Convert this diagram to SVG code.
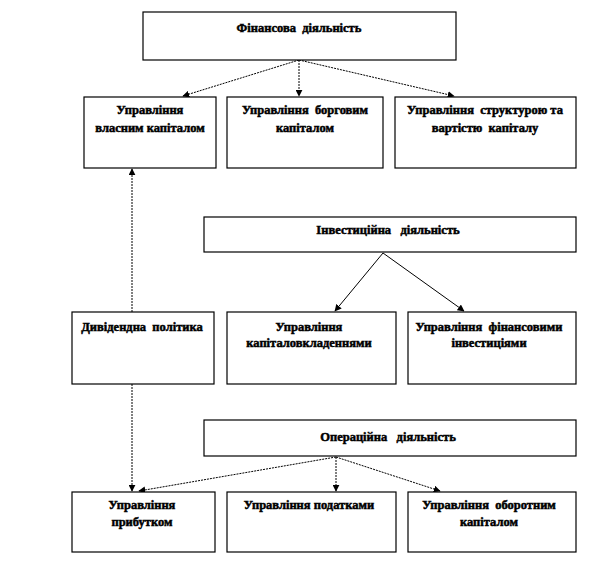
<svg xmlns="http://www.w3.org/2000/svg" width="612" height="564" viewBox="0 0 612 564" xml:space="preserve">
<style>
.box{fill:#fff;stroke:#000;stroke-width:1.2}
.t{font-family:"Liberation Serif","DejaVu Serif",serif;font-weight:bold;font-size:12.5px;fill:#000;stroke:#000;stroke-width:0.5;text-anchor:middle;white-space:pre}
.c{fill:none;stroke:#000;stroke-width:1;stroke-dasharray:2,1}
.s{fill:none;stroke:#000;stroke-width:1}
</style>
<defs>
<marker id="ah" viewBox="0 0 10 10" refX="9" refY="5" markerWidth="7" markerHeight="7" markerUnits="userSpaceOnUse" orient="auto">
<path d="M0,0 L10,5 L0,10 z" fill="#000"/>
</marker>
</defs>
<rect width="612" height="564" fill="#fff"/>
<g id="connectors">
<line class="c" x1="299" y1="60" x2="183" y2="96" marker-end="url(#ah)"/>
<line class="c" x1="299" y1="60" x2="299" y2="96" marker-end="url(#ah)"/>
<line class="c" x1="299" y1="60" x2="454" y2="96" marker-end="url(#ah)"/>
<line class="s" x1="383" y1="253" x2="335" y2="311" marker-end="url(#ah)"/>
<line class="s" x1="383" y1="253" x2="464" y2="311" marker-end="url(#ah)"/>
<line class="c" x1="132" y1="312" x2="132" y2="169" marker-end="url(#ah)"/>
<line class="c" x1="132" y1="384" x2="132" y2="491" marker-end="url(#ah)"/>
<line class="c" x1="336" y1="457" x2="139" y2="491" marker-end="url(#ah)"/>
<line class="c" x1="336" y1="457" x2="336" y2="491" marker-end="url(#ah)"/>
<line class="c" x1="336" y1="457" x2="440" y2="491" marker-end="url(#ah)"/>
</g>
<g id="fin">
<rect class="box" x="143" y="12" width="313" height="48"/>
<text class="t" x="299" y="32">Фінансова  діяльність</text>
</g>
<g id="own">
<rect class="box" x="84" y="97" width="132" height="71"/>
<text class="t" x="150" y="114">Управління</text>
<text class="t" x="150" y="132">власним капіталом</text>
</g>
<g id="debt">
<rect class="box" x="227" y="97" width="156" height="71"/>
<text class="t" x="305" y="114">Управління  борговим</text>
<text class="t" x="305" y="132">капіталом</text>
</g>
<g id="struct">
<rect class="box" x="395" y="97" width="181" height="71"/>
<text class="t" x="485" y="114">Управління  структурою та</text>
<text class="t" x="485" y="132">вартістю  капіталу</text>
</g>
<g id="invest">
<rect class="box" x="204" y="217" width="372" height="35"/>
<text class="t" x="388" y="234">Інвестиційна   діяльність</text>
</g>
<g id="div">
<rect class="box" x="72" y="312" width="142" height="72"/>
<text class="t" x="142" y="331">Дивідендна  політика</text>
</g>
<g id="capex">
<rect class="box" x="227" y="312" width="169" height="72"/>
<text class="t" x="309" y="331">Управління</text>
<text class="t" x="309" y="347">капіталовкладеннями</text>
</g>
<g id="fininv">
<rect class="box" x="408" y="312" width="168" height="72"/>
<text class="t" x="489" y="331">Управління  фінансовими</text>
<text class="t" x="489" y="347">інвестиціями</text>
</g>
<g id="oper">
<rect class="box" x="204" y="420" width="372" height="36"/>
<text class="t" x="388" y="441">Операційна   діяльність</text>
</g>
<g id="profit">
<rect class="box" x="72" y="492" width="143" height="60"/>
<text class="t" x="142" y="509">Управління</text>
<text class="t" x="142" y="526">прибутком</text>
</g>
<g id="tax">
<rect class="box" x="227" y="492" width="169" height="60"/>
<text class="t" x="309" y="509">Управління податками</text>
</g>
<g id="working">
<rect class="box" x="408" y="492" width="168" height="60"/>
<text class="t" x="489" y="509">Управління  оборотним</text>
<text class="t" x="489" y="526">капіталом</text>
</g>
</svg>
